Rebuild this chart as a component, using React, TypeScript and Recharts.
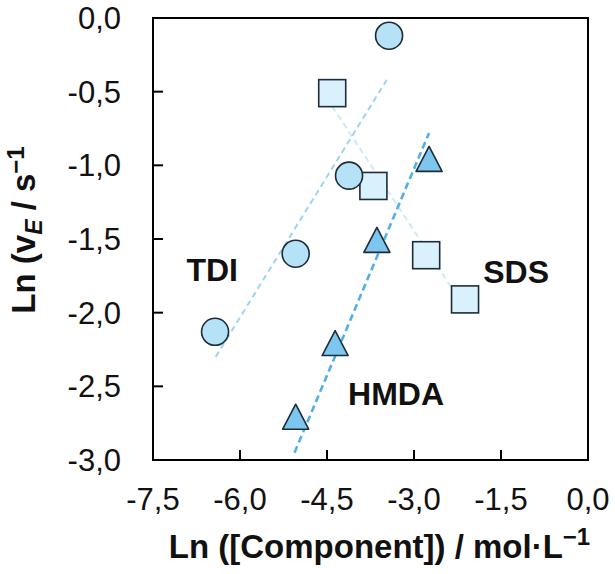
import React from "react";
import {
  ScatterChart,
  Scatter,
  XAxis,
  YAxis,
  ReferenceLine,
  ReferenceArea,
  ReferenceDot,
} from "recharts";

// axis ticks
const xTicks = [-7.5, -6, -4.5, -3, -1.5, 0];
const yTicks = [0, -0.5, -1, -1.5, -2, -2.5, -3];

// series
const tdiX = [-6.43, -5.04, -4.12, -3.43];
const tdiY = [-2.13, -1.6, -1.07, -0.12];
const sdsX = [-4.41, -3.7, -2.79, -2.12];
const sdsY = [-0.51, -1.14, -1.61, -1.91];
const hmdaX = [-5.04, -4.36, -3.64, -2.74];
const hmdaY = [-2.73, -2.23, -1.53, -0.98];

// fitted trend lines (start / end)
const tdiFitX = [-6.42, -3.47];
const tdiFitY = [-2.3, -0.42];
const hmdaFitX = [-5.06, -2.74];
const hmdaFitY = [-2.95, -0.78];
const sdsFitX = [-4.41, -2.12];
const sdsFitY = [-0.6, -1.97];

// series names written in the plot
const seriesNames = ["TDI", "SDS", "HMDA"];
const nameX = [-6.48, -1.24, -3.31];
const nameY = [-1.71, -1.72, -2.55];

const FONT = "'Liberation Sans', Arial, sans-serif";
const EDGE = "#1e2b38";

const toPoints = (xs: number[], ys: number[]) => xs.map((x, i) => ({ x, y: ys[i] }));

const fmt = (v: number) => v.toFixed(1).replace(".", ",");

const CircleMark = (p: any) => (
  <circle cx={p.cx} cy={p.cy} r={13.5} fill="#b6e2f8" stroke={EDGE} strokeWidth={1.6} />
);

const SquareMark = (p: any) => (
  <rect x={p.cx - 13.5} y={p.cy - 13.5} width={27} height={27} fill="#d9f1fc" stroke={EDGE} strokeWidth={1.6} />
);

const TriangleMark = (p: any) => (
  <polygon
    points={`${p.cx},${p.cy - 16} ${p.cx - 13},${p.cy + 9} ${p.cx + 13},${p.cy + 9}`}
    fill="#7cc6ef"
    stroke={EDGE}
    strokeWidth={1.6}
    strokeLinejoin="round"
  />
);

const XTitle = ({ viewBox }: any) => {
  const cx = viewBox.x + viewBox.width / 2 + 9;
  return (
    <text x={cx} y={558} textAnchor="middle" fontFamily={FONT} fontWeight="bold" fontSize={33} fill="#111">
      Ln ([Component]) / mol·L
      <tspan dy={-13} fontSize={24}>−1</tspan>
    </text>
  );
};

const YTitle = ({ viewBox }: any) => {
  const cy = viewBox.y + viewBox.height / 2 - 9;
  return (
    <text
      transform={`translate(35, ${cy}) rotate(-90)`}
      textAnchor="middle"
      fontFamily={FONT}
      fontWeight="bold"
      fontSize={33}
      fill="#111"
    >
      Ln (<tspan>v</tspan>
      <tspan dy={7} fontSize={23} fontStyle="italic">E</tspan>
      <tspan dy={-7}> / s</tspan>
      <tspan dy={-11} fontSize={24}>−1</tspan>
    </text>
  );
};

export default function App() {
  const tick = { fontSize: 31, fill: "#111", fontFamily: FONT };
  return (
    <div style={{ width: 615, height: 574, background: "#fff" }}>
      <style>{"body{margin:0}"}</style>
      <ScatterChart width={615} height={574} margin={{ top: 18, right: 27, bottom: 24, left: 0 }}>
        <XAxis
          type="number"
          dataKey="x"
          domain={[-7.5, 0]}
          ticks={xTicks}
          tickFormatter={fmt}
          tick={tick}
          tickSize={-10}
          tickMargin={38}
          tickLine={{ stroke: "#000", strokeWidth: 2 }}
          axisLine={{ stroke: "#000", strokeWidth: 2 }}
          height={90}
          label={<XTitle />}
        />
        <YAxis
          type="number"
          dataKey="y"
          domain={[-3, 0]}
          ticks={yTicks}
          tickFormatter={fmt}
          tick={tick}
          tickSize={-10}
          tickMargin={42}
          tickLine={{ stroke: "#000", strokeWidth: 2 }}
          axisLine={{ stroke: "#000", strokeWidth: 2 }}
          width={153}
          label={<YTitle />}
        />
        <ReferenceArea x1={-7.5} x2={0} y1={-3} y2={0} fill="none" stroke="#000" strokeWidth={2} />
        <ReferenceLine
          segment={toPoints(sdsFitX, sdsFitY)}
          stroke="#cdeaf7"
          strokeWidth={2}
          strokeDasharray="6 4"
        />
        <ReferenceLine
          segment={toPoints(tdiFitX, tdiFitY)}
          stroke="#9dd5f1"
          strokeWidth={2}
          strokeDasharray="6 4"
        />
        <ReferenceLine
          segment={toPoints(hmdaFitX, hmdaFitY)}
          stroke="#52b0e6"
          strokeWidth={2.6}
          strokeDasharray="7 4"
        />
        <Scatter data={toPoints(sdsX, sdsY)} shape={SquareMark} isAnimationActive={false} />
        <Scatter data={toPoints(tdiX, tdiY)} shape={CircleMark} isAnimationActive={false} />
        <Scatter data={toPoints(hmdaX, hmdaY)} shape={TriangleMark} isAnimationActive={false} />
        {seriesNames.map((name, i) => (
          <ReferenceDot
            key={name}
            x={nameX[i]}
            y={nameY[i]}
            r={0}
            stroke="none"
            fill="none"
            label={{
              value: name,
              position: "center",
              fontSize: 32,
              fontWeight: "bold",
              fill: "#111",
              fontFamily: FONT,
            }}
          />
        ))}
      </ScatterChart>
    </div>
  );
}
